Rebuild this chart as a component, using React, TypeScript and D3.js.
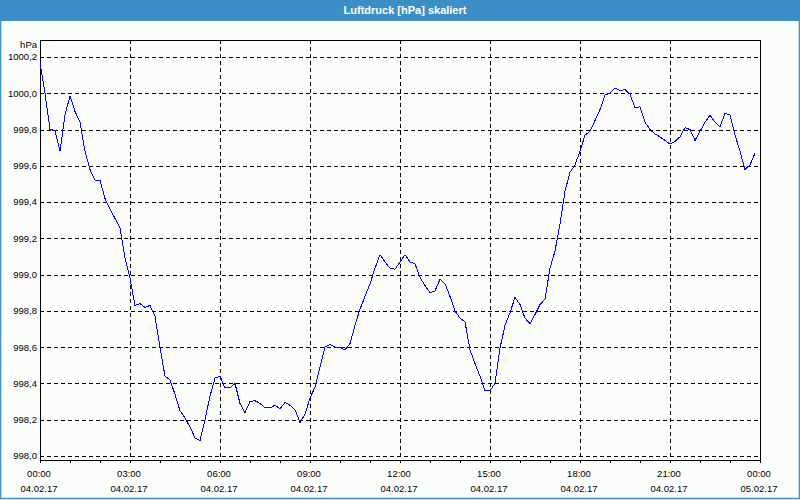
import React from "react";
import * as d3 from "d3";

// --- data (10-minute readings, 04.02.17) ---
const minutes: number[] = [
  0, 10, 20, 30, 40, 50,
  60, 70, 80, 90, 100, 110,
  120, 130, 140, 150, 160, 170,
  180, 190, 200, 210, 220, 230,
  240, 250, 260, 270, 280, 290,
  300, 310, 320, 330, 340, 350,
  360, 370, 380, 390, 400, 410,
  420, 430, 440, 450, 460, 470,
  480, 490, 500, 510, 520, 530,
  540, 550, 560, 570, 580, 590,
  600, 610, 620, 630, 640, 650,
  660, 670, 680, 690, 700, 710,
  720, 730, 740, 750, 760, 770,
  780, 790, 800, 810, 820, 830,
  840, 850, 860, 870, 880, 890,
  900, 910, 920, 930, 940, 950,
  960, 970, 980, 990, 1000, 1010,
  1020, 1030, 1040, 1050, 1060, 1070,
  1080, 1090, 1100, 1110, 1120, 1130,
  1140, 1150, 1160, 1170, 1180, 1190,
  1200, 1210, 1220, 1230, 1240, 1250,
  1260, 1270, 1280, 1290, 1300, 1310,
  1320, 1330, 1340, 1350, 1360, 1370,
  1380, 1390, 1400, 1410, 1420, 1430,
];

const pressure: number[] = [
  1000.17, 1000.0, 999.8, 999.795, 999.68, 999.88,
  999.985, 999.9, 999.84, 999.68, 999.58, 999.52,
  999.52, 999.42, 999.36, 999.31, 999.26, 999.09,
  998.98, 998.83, 998.84, 998.82, 998.83, 998.77,
  998.6, 998.44, 998.42, 998.34, 998.25, 998.21,
  998.16, 998.1, 998.085, 998.2, 998.33, 998.43,
  998.44, 998.375, 998.375, 998.4, 998.29, 998.24,
  998.3, 998.305, 998.29, 998.265, 998.265, 998.28,
  998.26, 998.295, 998.28, 998.255, 998.185, 998.23,
  998.32, 998.38, 998.49, 998.6, 998.615, 998.6,
  998.6, 998.585, 998.62, 998.72, 998.81, 998.88,
  998.95, 999.035, 999.11, 999.07, 999.035, 999.03,
  999.07, 999.11, 999.07, 999.06, 998.985, 998.94,
  998.9, 998.91, 998.975, 998.95, 998.88, 998.8,
  998.76, 998.74, 998.585, 998.51, 998.44, 998.36,
  998.36, 998.4, 998.595, 998.72, 998.79, 998.875,
  998.835, 998.76, 998.73, 998.78, 998.835, 998.865,
  999.035, 999.13, 999.28, 999.46, 999.565, 999.605,
  999.68, 999.77, 999.79, 999.85, 999.91, 999.99,
  1000.0, 1000.03, 1000.015, 1000.02, 999.995, 999.92,
  999.925, 999.84, 999.8, 999.775, 999.76, 999.74,
  999.72, 999.735, 999.76, 999.81, 999.8, 999.74,
  999.79, 999.84, 999.88, 999.84, 999.815, 999.89,
  999.88, 999.77, 999.68, 999.58, 999.605, 999.67,
];

const xTickMinutes: number[] = [0, 180, 360, 540, 720, 900, 1080, 1260, 1440];
const xTickTimes: string[] = ["00:00", "03:00", "06:00", "09:00", "12:00", "15:00", "18:00", "21:00", "00:00"];
const xTickDates: string[] = ["04.02.17", "04.02.17", "04.02.17", "04.02.17", "04.02.17", "04.02.17", "04.02.17", "04.02.17", "05.02.17"];
const xMinorMinutes: number[] = [0, 60, 120, 180, 240, 300, 360, 420, 480, 540, 600, 660, 720, 780, 840, 900, 960, 1020, 1080, 1140, 1200, 1260, 1320, 1380, 1440];

const yTickValues: number[] = [998.0, 998.2, 998.4, 998.6, 998.8, 999.0, 999.2, 999.4, 999.6, 999.8, 1000.0, 1000.2];
const yTickLabels: string[] = ["998,0", "998,2", "998,4", "998,6", "998,8", "999,0", "999,2", "999,4", "999,6", "999,8", "1000,0", "1000,2"];

const title = "Luftdruck [hPa] skaliert";
const unit = "hPa";

const W = 800;
const H = 500;
const left = 40;
const right = 760;
const top = 40;
const bottom = 460;

const font = "'Liberation Sans', Arial, sans-serif";

export default function App() {
  const x = d3.scaleLinear().domain([0, 1440]).range([left, right]);
  const y = d3.scaleLinear().domain([998.0, 1000.2]).range([456, 57]);

  const line = d3
    .line<number>()
    .x((_, i) => x(minutes[i]))
    .y((d) => y(d));

  const crisp = (v: number) => Math.round(v) + 0.5;

  return (
    <svg
      width={W}
      height={H}
      style={{ position: "absolute", left: 0, top: 0, display: "block" }}
      fontFamily={font}
    >
      <rect x={0} y={0} width={W} height={H} fill="#fbfdfb" />
      <rect x={0} y={0} width={W} height={21} fill="#3c8fc6" />
      <rect x={0.5} y={0.5} width={W - 1} height={H - 2} fill="none" stroke="#3c8fc6" strokeWidth={1.5} />
      <text
        x={405}
        y={10}
        dy="0.35em"
        textAnchor="middle"
        fill="#ffffff"
        fontWeight="bold"
        fontSize={11}
      >
        {title}
      </text>

      {/* horizontal grid */}
      {yTickValues.map((v) => (
        <line
          key={"hg" + v}
          x1={left}
          x2={right}
          y1={crisp(y(v))}
          y2={crisp(y(v))}
          stroke="#000"
          strokeWidth={1}
          strokeDasharray="4,3"
          shapeRendering="crispEdges"
        />
      ))}
      {/* vertical grid */}
      {xTickMinutes.slice(1, -1).map((m) => (
        <line
          key={"vg" + m}
          x1={crisp(x(m))}
          x2={crisp(x(m))}
          y1={top}
          y2={bottom}
          stroke="#000"
          strokeWidth={1}
          strokeDasharray="4,3"
          shapeRendering="crispEdges"
        />
      ))}

      {/* frame */}
      <path
        d={`M${crisp(left)},${bottom + 3}V${crisp(top)}H${crisp(right)}V${bottom + 3}`}
        fill="none"
        stroke="#000"
        strokeWidth={1}
        shapeRendering="crispEdges"
      />
      <line x1={left} x2={right + 1} y1={crisp(bottom)} y2={crisp(bottom)} stroke="#000" shapeRendering="crispEdges" />

      {/* minor ticks */}
      {xMinorMinutes.map((m) => (
        <line
          key={"mt" + m}
          x1={crisp(x(m))}
          x2={crisp(x(m))}
          y1={bottom}
          y2={bottom + 3}
          stroke="#000"
          shapeRendering="crispEdges"
        />
      ))}

      {/* y labels */}
      <text x={37} y={45} dy="0.35em" textAnchor="end" fontSize={9.5} fill="#000">
        {unit}
      </text>
      {yTickValues.map((v, i) => (
        <text key={"yl" + v} x={37} y={y(v)} dy="0.35em" textAnchor="end" fontSize={9.5} fill="#000">
          {yTickLabels[i]}
        </text>
      ))}

      {/* x labels */}
      {xTickMinutes.map((m, i) => (
        <g key={"xl" + i}>
          <text x={x(m) - 1} y={474} dy="0.35em" textAnchor="middle" fontSize={9.5} fill="#000">
            {xTickTimes[i]}
          </text>
          <text x={x(m) - 1} y={489} dy="0.35em" textAnchor="middle" fontSize={9.5} fill="#000">
            {xTickDates[i]}
          </text>
        </g>
      ))}

      {/* data line */}
      <path
        d={line(pressure) || ""}
        fill="none"
        stroke="#0000ff"
        strokeWidth={1}
        shapeRendering="crispEdges"
      />
    </svg>
  );
}
